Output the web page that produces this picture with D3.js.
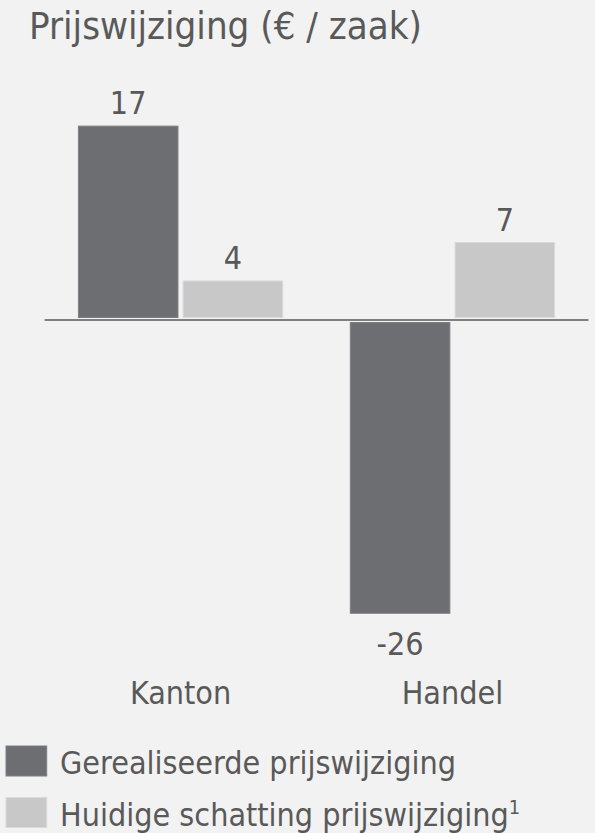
<!DOCTYPE html>
<html>
<head>
<meta charset="utf-8">
<script src="https://cdn.jsdelivr.net/npm/d3@7"></script>
<style>
  html, body { margin: 0; padding: 0; background: #f2f2f2; }
  svg { display: block; }
  text { font-family: "DejaVu Sans Condensed", "DejaVu Sans", sans-serif; font-stretch: condensed; fill: #595959; }
</style>
</head>
<body>
<svg id="chart" width="595" height="833"></svg>
<script>
// ---- data ----
const categories = ["Kanton", "Handel"];
const seriesNames = ["Gerealiseerde prijswijziging", "Huidige schatting prijswijziging"];
const gerealiseerd = [17.2, -26];
const schatting = [3.5, 6.9];
const valueLabels = [["17", "-26"], ["4", "7"]];
const title = "Prijswijziging (€ / zaak)";
const colors = ["#6d6e72", "#c8c8c8"];
const strokes = ["#7e7f83", "#dadada"];

const svg = d3.select("#chart");
const W = 595, H = 833;
svg.append("rect").attr("width", W).attr("height", H).attr("fill", "#f2f2f2");

// title
svg.append("text")
  .attr("x", 29).attr("y", 38.5)
  .attr("font-size", 36.5)
  .attr("textLength", 393).attr("lengthAdjust", "spacingAndGlyphs")
  .text(title);

// scales
const x0 = d3.scaleBand().domain(categories).range([44.6, 588.4]).paddingInner(0.245).paddingOuter(0.1225);
const x1 = d3.scaleBand().domain([0, 1]).range([0, x0.bandwidth()]).paddingInner(0.04);
const y = d3.scaleLinear().domain([-30, 20]).range([659, 94]);
const zero = y(0);

const series = [gerealiseerd, schatting];
const rows = [];
series.forEach((vals, s) => vals.forEach((v, i) => rows.push({ s, i, v, label: valueLabels[s][i] })));

const g = svg.append("g");
g.selectAll("rect.bar").data(rows).enter().append("rect")
  .attr("class", "bar")
  .attr("x", d => x0(categories[d.i]) + x1(d.s) + 0.5)
  .attr("width", x1.bandwidth() - 1)
  .attr("y", d => d.v >= 0 ? y(d.v) + 0.5 : zero + 2.5)
  .attr("height", d => d.v >= 0 ? (zero - 2) - y(d.v) - 1 : y(d.v) - (zero + 2) - 1)
  .attr("fill", d => colors[d.s])
  .attr("stroke", d => strokes[d.s])
  .attr("stroke-width", 1);

// baseline
g.append("line")
  .attr("x1", x0.range()[0]).attr("x2", x0.range()[1])
  .attr("y1", zero).attr("y2", zero)
  .attr("stroke", "#7f7f7f").attr("stroke-width", 2);

// value labels
g.selectAll("text.val").data(rows).enter().append("text")
  .attr("class", "val")
  .attr("x", d => x0(categories[d.i]) + x1(d.s) + x1.bandwidth() / 2)
  .attr("y", d => d.v >= 0 ? y(d.v) - 11.5 : y(d.v) + 41.5)
  .attr("text-anchor", "middle")
  .attr("font-size", 32)
  .text(d => d.label);

// category labels
g.selectAll("text.cat").data(categories).enter().append("text")
  .attr("class", "cat")
  .attr("x", d => x0(d) + x0.bandwidth() / 2)
  .attr("y", 704)
  .attr("text-anchor", "middle")
  .attr("font-size", 32)
  .text(d => d);

// legend
const leg = svg.append("g");
seriesNames.forEach((name, s) => {
  const yy = 746 + s * 51.5;
  leg.append("rect").attr("x", 6).attr("y", yy).attr("width", 40.7).attr("height", 30)
    .attr("fill", colors[s]).attr("stroke", strokes[s]).attr("stroke-width", 1);
  const t = leg.append("text").attr("x", 60).attr("y", yy + 28).attr("font-size", 32).text(name);
  if (s === 1) {
    t.append("tspan").attr("font-size", 20).attr("dy", -12).text("1");
  }
});
</script>
</body>
</html>
